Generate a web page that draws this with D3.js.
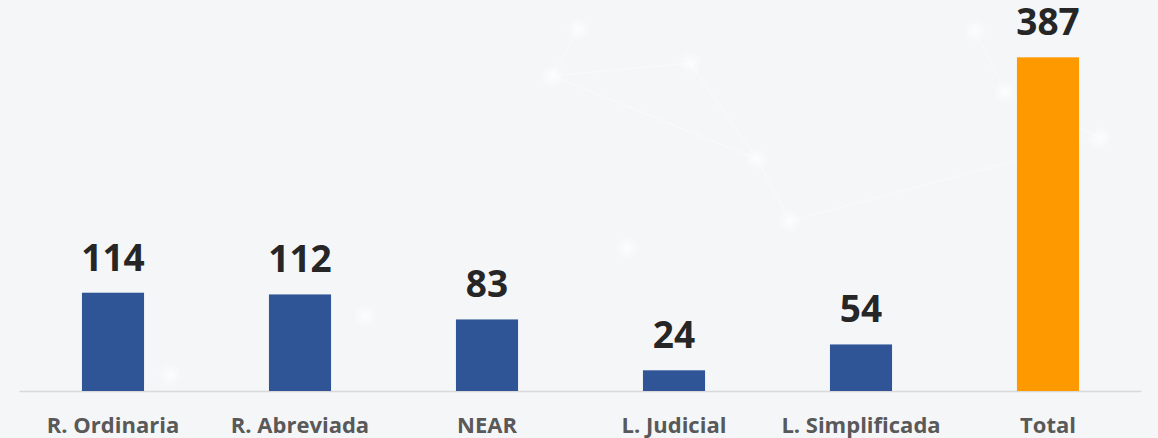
<!DOCTYPE html>
<html>
<head>
<meta charset="utf-8">
<script src="https://cdn.jsdelivr.net/npm/d3@7"></script>
<style>
  body { margin: 0; background: #f5f6f8; }
  svg { display: block; }
</style>
</head>
<body>
<div id="myChart"></div>
<script>
var categories = ['R. Ordinaria', 'R. Abreviada', 'NEAR', 'L. Judicial', 'L. Simplificada', 'Total'];
var values = [114, 112, 83, 24, 54, 387];
var barColors = ['#2f5597', '#2f5597', '#2f5597', '#2f5597', '#2f5597', '#ff9900'];

// faint network decoration in the background
var bgNodes = [[552, 76], [578, 29], [690, 63], [757, 159], [790, 221], [975, 31], [1005, 92], [1100, 138], [627, 248], [365, 316], [170, 375]];
var bgLinks = [[0, 1], [0, 3], [3, 4], [2, 3], [4, 7], [5, 6], [6, 7], [0, 2]];

var width = 1158, height = 438;
var margin = {left: 19.5, right: 16.5, top: 3, bottom: 47};

var svg = d3.select('#myChart')
  .append('svg')
  .attr('width', width)
  .attr('height', height);

svg.append('rect')
  .attr('width', width)
  .attr('height', height)
  .attr('fill', '#f5f6f8');

var defs = svg.append('defs');
var glow = defs.append('radialGradient').attr('id', 'glow');
glow.append('stop').attr('offset', '0%').attr('stop-color', '#ffffff').attr('stop-opacity', 1);
glow.append('stop').attr('offset', '100%').attr('stop-color', '#ffffff').attr('stop-opacity', 0);

var deco = svg.append('g');
deco.selectAll('line')
  .data(bgLinks)
  .enter()
  .append('line')
  .attr('x1', function(d) { return bgNodes[d[0]][0]; })
  .attr('y1', function(d) { return bgNodes[d[0]][1]; })
  .attr('x2', function(d) { return bgNodes[d[1]][0]; })
  .attr('y2', function(d) { return bgNodes[d[1]][1]; })
  .attr('stroke', '#ffffff')
  .attr('stroke-width', 1.5)
  .attr('opacity', 0.35);
deco.selectAll('circle')
  .data(bgNodes)
  .enter()
  .append('circle')
  .attr('cx', function(d) { return d[0]; })
  .attr('cy', function(d) { return d[1]; })
  .attr('r', 12)
  .attr('fill', 'url(#glow)')
  .attr('opacity', 0.8);

var x = d3.scaleBand()
  .domain(categories)
  .range([margin.left, width - margin.right])
  .paddingInner(0.668)
  .paddingOuter(0.334);

var y = d3.scaleLinear()
  .domain([0, 450])
  .range([height - margin.bottom, margin.top]);

// baseline axis
svg.append('line')
  .attr('x1', margin.left)
  .attr('x2', width - margin.right)
  .attr('y1', y(0) + 0.5)
  .attr('y2', y(0) + 0.5)
  .attr('stroke', '#d9d9d9')
  .attr('stroke-width', 1.5);

svg.selectAll('rect.bar')
  .data(values)
  .enter()
  .append('rect')
  .attr('class', 'bar')
  .attr('x', function(d, i) { return x(categories[i]); })
  .attr('y', function(d) { return y(d); })
  .attr('width', x.bandwidth())
  .attr('height', function(d) { return y(0) - y(d); })
  .attr('fill', function(d, i) { return barColors[i]; });

// value labels
svg.selectAll('text.val')
  .data(values)
  .enter()
  .append('text')
  .attr('class', 'val')
  .attr('text-anchor', 'middle')
  .attr('x', function(d, i) { return x(categories[i]) + x.bandwidth() / 2; })
  .attr('y', function(d) { return y(d) - 22; })
  .text(function(d) { return d; })
  .style('fill', '#262626')
  .style('font-family', '"Open Sans", sans-serif')
  .style('font-weight', 'bold')
  .style('font-size', '37px');

// category labels
svg.selectAll('text.cat')
  .data(categories)
  .enter()
  .append('text')
  .attr('class', 'cat')
  .attr('text-anchor', 'middle')
  .attr('x', function(d) { return x(d) + x.bandwidth() / 2; })
  .attr('y', 433)
  .text(function(d) { return d; })
  .style('fill', '#595959')
  .style('font-family', '"Open Sans", sans-serif')
  .style('font-weight', 'bold')
  .style('font-size', '22px');
</script>
</body>
</html>
